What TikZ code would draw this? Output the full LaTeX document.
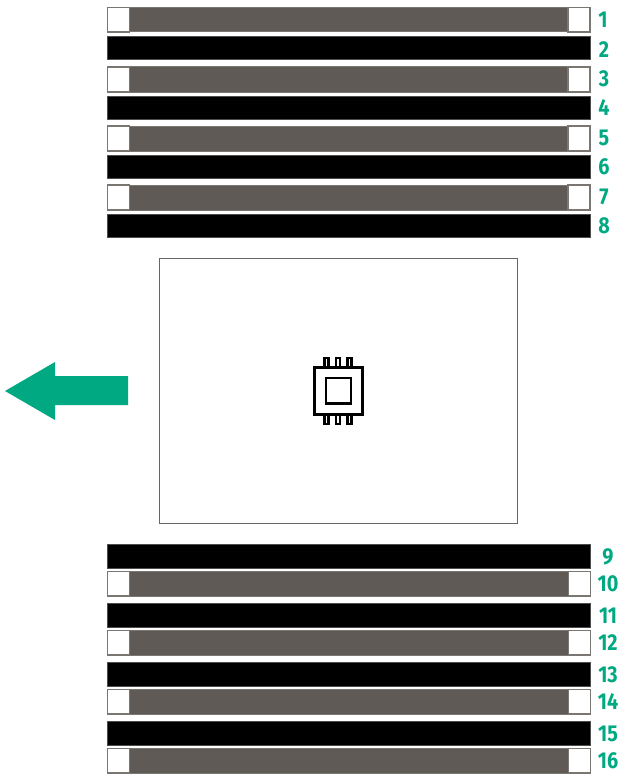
\documentclass[tikz,border=0pt]{standalone}
\usepackage{graphicx}
\usepackage{fontspec}
\setmainfont{Fira Sans}
\definecolor{hpegreen}{HTML}{01A982}
\definecolor{slotgray}{HTML}{5F5A56}
\definecolor{edgegray}{HTML}{7A7672}
\tikzset{
  x=1pt,y=-1pt,
  blackslot/.style={fill=black,draw=black!70,line width=.6pt},
  grayslot/.style={fill=slotgray,draw=edgegray,line width=1pt},
  latch/.style={fill=white,draw=edgegray,line width=1.2pt},
  numlabel/.style={text=hpegreen,font=\fontsize{23}{23}\selectfont\bfseries,inner sep=0pt,anchor=center},
  chipline/.style={draw=black,line width=2.4pt,fill=white},
}
\newcommand{\grayrow}[4]{% top, bottom, left, right
  \filldraw[grayslot] (#3,#1) rectangle (#4,#2);
  \filldraw[latch] (#3,#1) rectangle (#3+22,#2);
  \filldraw[latch] (#4-22,#1) rectangle (#4,#2);
}
\newcommand{\blackrow}[4]{\filldraw[blackslot] (#3,#1) rectangle (#4,#2);}
\newcommand{\numtxt}[1]{\scalebox{.86}[1]{#1}}
\begin{document}
\begin{tikzpicture}
\useasboundingbox (0,0) rectangle (622,776);
\grayrow{7.5}{32}{107.5}{590}
\blackrow{36.5}{59}{107.5}{590}
\grayrow{67}{92}{107.5}{590}
\blackrow{96}{119}{107.5}{590}
\grayrow{126}{151}{107.5}{590}
\blackrow{155}{178}{107.5}{590}
\grayrow{185}{210}{107.5}{590}
\blackrow{214}{237}{107.5}{590}
\blackrow{544.5}{568}{107.5}{590.5}
\grayrow{571.5}{596}{107.5}{590.5}
\blackrow{603.5}{627}{107.5}{590.5}
\grayrow{630.5}{655}{107.5}{590.5}
\blackrow{662.5}{686}{107.5}{590.5}
\grayrow{689.5}{714}{107.5}{590.5}
\blackrow{721.5}{745}{107.5}{590.5}
\grayrow{748.5}{773}{107.5}{590.5}
\node[numlabel] (n1) at (603,20) {\numtxt{1}};
\node[numlabel] (n2) at (604,50) {\numtxt{2}};
\node[numlabel] (n3) at (604,79) {\numtxt{3}};
\node[numlabel] (n4) at (604,108) {\numtxt{4}};
\node[numlabel] (n5) at (604,138) {\numtxt{5}};
\node[numlabel] (n6) at (604,167) {\numtxt{6}};
\node[numlabel] (n7) at (604,197) {\numtxt{7}};
\node[numlabel] (n8) at (604,226) {\numtxt{8}};
\node[numlabel] (n9) at (608,557) {\numtxt{9}};
\node[numlabel] (n10) at (608,584) {\numtxt{10}};
\node[numlabel] (n11) at (608,616) {\numtxt{11}};
\node[numlabel] (n12) at (608,643) {\numtxt{12}};
\node[numlabel] (n13) at (608,675) {\numtxt{13}};
\node[numlabel] (n14) at (608,702) {\numtxt{14}};
\node[numlabel] (n15) at (608,734) {\numtxt{15}};
\node[numlabel] (n16) at (608,761) {\numtxt{16}};
\draw[draw=black!60,line width=.8pt,fill=white] (159.5,258) rectangle (517,523);
\fill[hpegreen] (5,391) -- (55,362) -- (55,376) -- (128,376) -- (128,405) -- (55,405) -- (55,420) -- cycle;
\foreach \x in {326.5,338,349.5}{
  \draw[chipline] (\x-2,358) rectangle (\x+2,367);
  \draw[chipline] (\x-2,415) rectangle (\x+2,424);
}
\draw[chipline] (314.5,367.5) rectangle (362.5,414.5);
\draw[chipline] (326,378) rectangle (351,403.5);
\end{tikzpicture}
\end{document}
